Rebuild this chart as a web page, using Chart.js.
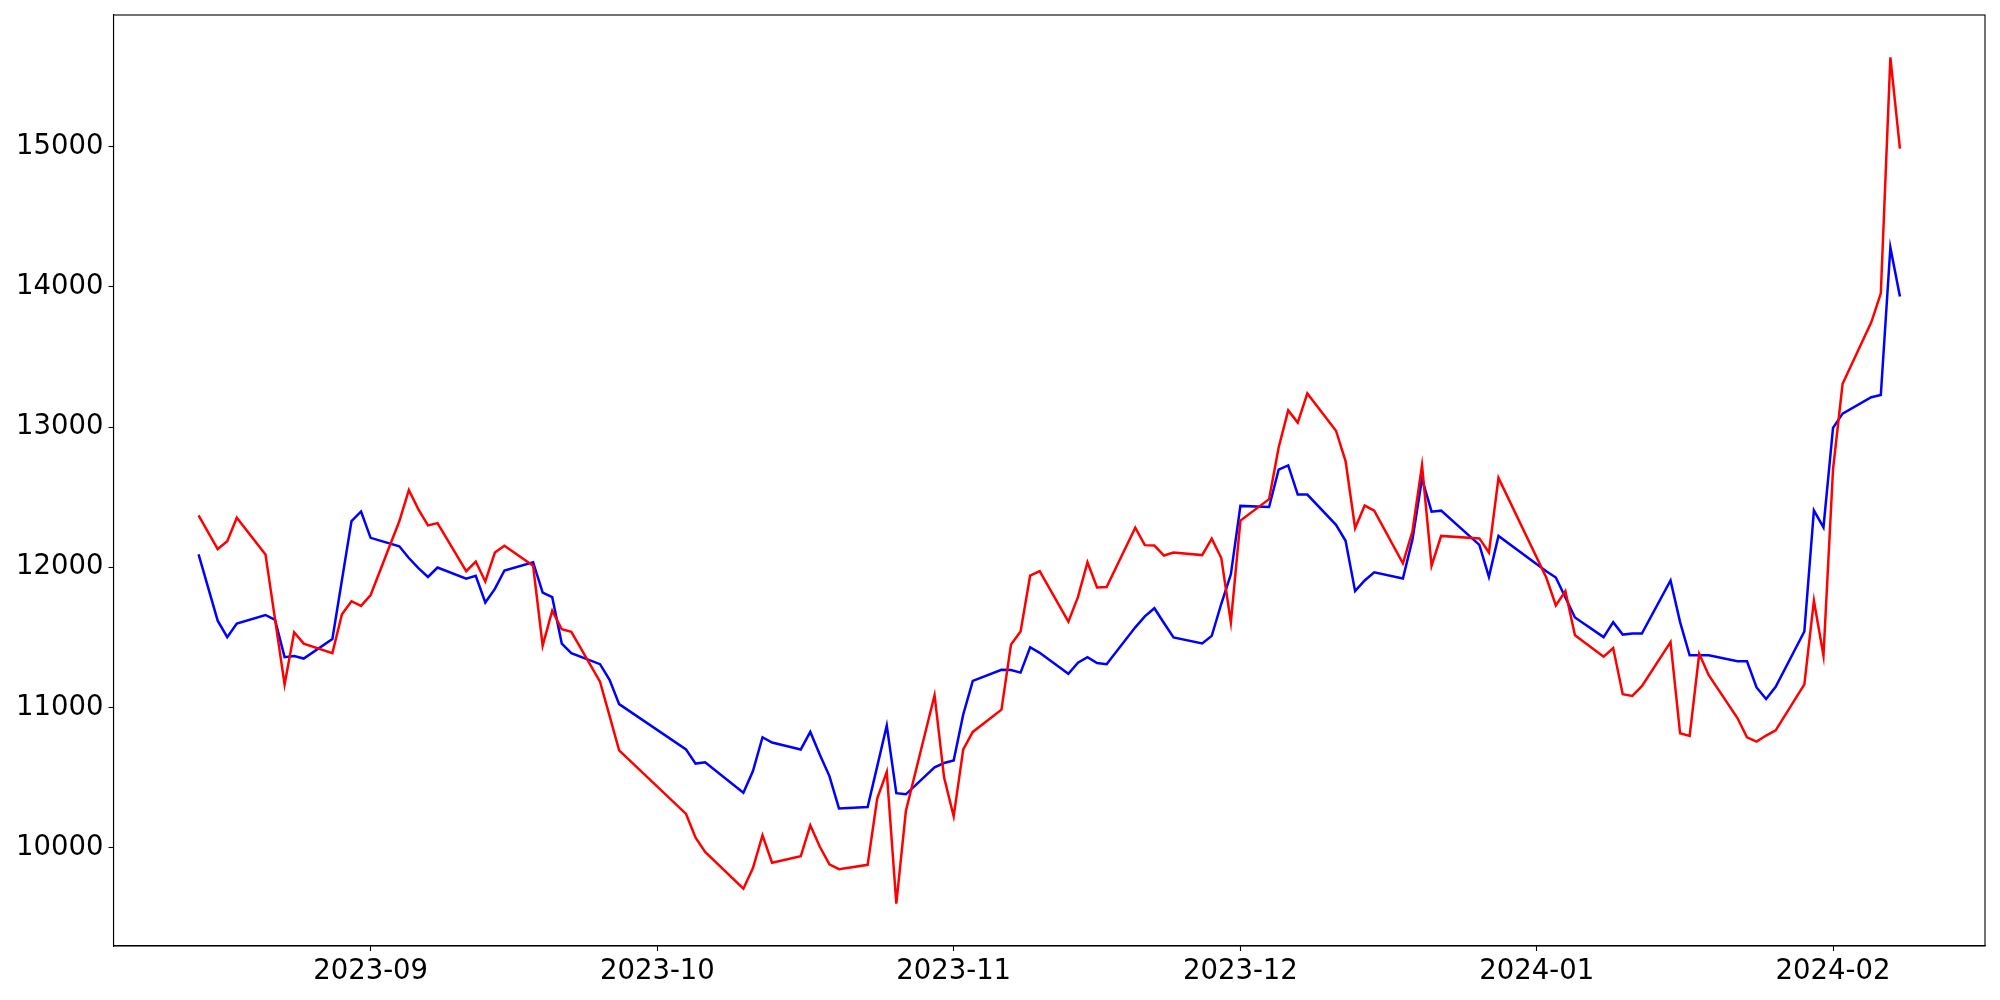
<!DOCTYPE html>
<html>
<head>
<meta charset="utf-8">
<script src="https://cdn.jsdelivr.net/npm/chart.js@4.4.1/dist/chart.umd.min.js"></script>
<style>
html,body{margin:0;padding:0;background:#ffffff;}
#wrap{width:2000px;height:1000px;position:relative;}
</style>
</head>
<body>
<div id="wrap"><canvas id="c" width="2000" height="1000"></canvas></div>
<script>
const dates = [
  '2023-08-14','2023-08-16','2023-08-17','2023-08-18','2023-08-21','2023-08-22','2023-08-23','2023-08-24','2023-08-25',
  '2023-08-28','2023-08-29','2023-08-30','2023-08-31','2023-09-01',
  '2023-09-04','2023-09-05','2023-09-06','2023-09-07','2023-09-08',
  '2023-09-11','2023-09-12','2023-09-13','2023-09-14','2023-09-15',
  '2023-09-18','2023-09-19','2023-09-20','2023-09-21','2023-09-22',
  '2023-09-25','2023-09-26','2023-09-27',
  '2023-10-04','2023-10-05','2023-10-06',
  '2023-10-10','2023-10-11','2023-10-12','2023-10-13',
  '2023-10-16','2023-10-17','2023-10-18','2023-10-19','2023-10-20',
  '2023-10-23','2023-10-24','2023-10-25','2023-10-26','2023-10-27',
  '2023-10-30','2023-10-31','2023-11-01','2023-11-02','2023-11-03',
  '2023-11-06','2023-11-07','2023-11-08','2023-11-09','2023-11-10',
  '2023-11-13','2023-11-14','2023-11-15','2023-11-16','2023-11-17',
  '2023-11-20','2023-11-21','2023-11-22','2023-11-23','2023-11-24',
  '2023-11-27','2023-11-28','2023-11-29','2023-11-30','2023-12-01',
  '2023-12-04','2023-12-05','2023-12-06','2023-12-07','2023-12-08',
  '2023-12-11','2023-12-12','2023-12-13','2023-12-14','2023-12-15',
  '2023-12-18','2023-12-19','2023-12-20','2023-12-21','2023-12-22',
  '2023-12-26','2023-12-27','2023-12-28',
  '2024-01-02','2024-01-03','2024-01-04','2024-01-05',
  '2024-01-08','2024-01-09','2024-01-10','2024-01-11','2024-01-12',
  '2024-01-15','2024-01-16','2024-01-17','2024-01-18','2024-01-19',
  '2024-01-22','2024-01-23','2024-01-24','2024-01-25','2024-01-26',
  '2024-01-29','2024-01-30','2024-01-31','2024-02-01','2024-02-02',
  '2024-02-05','2024-02-06','2024-02-07','2024-02-08'
];

const redValues = [
  12371,12130,12186,12354,12092,11630,11164,11537,11456,
  11388,11665,11758,11725,11802,
  12328,12551,12413,12299,12315,
  11972,12041,11899,12105,12153,
  12011,11441,11690,11558,11540,
  11184,10940,10694,
  10241,10071,9970,
  9708,9855,10089,9893,
  9939,10160,10007,9881,9847,
  9878,10351,10541,9601,10262,
  11088,10500,10224,10702,10826,
  10985,11450,11543,11940,11972,
  11612,11787,12036,11856,11860,
  12283,12158,12155,12084,12105,
  12087,12204,12066,11608,12333,
  12486,12854,13119,13032,13240,
  12974,12758,12280,12440,12404,
  12028,12257,12727,12011,12224,
  12206,12105,12638,
  11927,11728,11830,11515,
  11362,11424,11095,11083,11152,
  11466,10816,10798,11383,11230,
  10925,10787,10757,10800,10837,
  11165,11762,11371,12699,13309,
  13747,13954,15637,14986
];

const blueValues = [
  12092,11619,11502,11599,11660,11625,11359,11367,11349,
  11489,11909,12329,12398,12210,
  12150,12066,11994,11931,11998,
  11919,11940,11749,11846,11977,
  12036,11820,11787,11456,11388,
  11309,11197,11024,
  10701,10600,10610,
  10392,10547,10788,10750,
  10701,10826,10663,10511,10280,
  10290,10580,10872,10389,10381,
  10573,10604,10622,10950,11190,
  11269,11268,11249,11430,11390,
  11241,11320,11359,11317,11309,
  11572,11650,11708,11603,11500,
  11457,11511,11740,11950,12438,
  12430,12697,12727,12519,12519,
  12303,12189,11830,11906,11964,
  11920,12199,12631,12397,12404,
  12160,11932,12224,
  11972,11927,11784,11642,
  11502,11609,11520,11527,11527,
  11906,11609,11372,11372,11372,
  11330,11330,11143,11060,11148,
  11542,12406,12285,12994,13096,
  13213,13229,14281,13932
];

const xTickDates = ['2023-09-01','2023-10-01','2023-11-01','2023-12-01','2024-01-01','2024-02-01'];
const yTickValues = [10000, 11000, 12000, 13000, 14000, 15000];

function dayNum(s) {
  const p = s.split('-').map(Number);
  return Date.UTC(p[0], p[1] - 1, p[2]) / 86400000;
}
function dayLabel(d) {
  const dt = new Date(d * 86400000);
  const m = dt.getUTCMonth() + 1;
  return dt.getUTCFullYear() + '-' + (m < 10 ? '0' + m : '' + m);
}

const xs = dates.map(dayNum);
const redData = xs.map((x, i) => ({x: x, y: redValues[i]}));
const blueData = xs.map((x, i) => ({x: x, y: blueValues[i]}));

const xMinD = Math.min(...xs), xMaxD = Math.max(...xs);
const xPad = (xMaxD - xMinD) * 0.05;
const allY = redValues.concat(blueValues);
const yMinD = Math.min(...allY), yMaxD = Math.max(...allY);
const yPad = (yMaxD - yMinD) * 0.05;

const FONT = {family: "'DejaVu Sans', sans-serif", size: 27.5};

const framePlugin = {
  id: 'frame',
  afterDraw(chart) {
    const a = chart.chartArea, ctx = chart.ctx;
    ctx.save();
    ctx.strokeStyle = '#000000';
    ctx.lineWidth = 1.1;
    ctx.strokeRect(a.left, a.top, a.right - a.left, a.bottom - a.top);
    ctx.restore();
  }
};

new Chart(document.getElementById('c'), {
  type: 'line',
  data: {
    datasets: [
      {data: redData, borderColor: '#ff0000', borderWidth: 2.5, pointRadius: 0, fill: false, tension: 0},
      {data: blueData, borderColor: '#0000ff', borderWidth: 2.5, pointRadius: 0, fill: false, tension: 0}
    ]
  },
  options: {
    responsive: false,
    animation: false,
    devicePixelRatio: 1,
    layout: {padding: {left: 0, right: 15, top: 15, bottom: 0}},
    plugins: {legend: {display: false}, tooltip: {enabled: false}},
    scales: {
      x: {
        type: 'linear',
        min: xMinD - xPad,
        max: xMaxD + xPad,
        afterBuildTicks(scale) { scale.ticks = xTickDates.map(s => ({value: dayNum(s)})); },
        afterFit(scale) { scale.height = 54; scale.paddingLeft = 0; scale.paddingRight = 0; },
        ticks: {
          autoSkip: false, maxRotation: 0, minRotation: 0,
          color: '#000000', font: FONT, padding: 4,
          callback: (v) => dayLabel(v)
        },
        grid: {display: true, drawOnChartArea: false, drawTicks: true, tickLength: 5, color: '#000000', tickWidth: 1.1},
        border: {display: true, color: '#000000', width: 1.1}
      },
      y: {
        type: 'linear',
        min: yMinD - yPad,
        max: yMaxD + yPad,
        afterBuildTicks(scale) { scale.ticks = yTickValues.map(v => ({value: v})); },
        afterFit(scale) { scale.width = 113.5; scale.paddingTop = 0; scale.paddingBottom = 0; },
        ticks: {
          autoSkip: false, color: '#000000', font: FONT, padding: 5,
          callback: (v) => String(v)
        },
        grid: {display: true, drawOnChartArea: false, drawTicks: true, tickLength: 5, color: '#000000', tickWidth: 1.1},
        border: {display: true, color: '#000000', width: 1.1}
      }
    }
  },
  plugins: [framePlugin]
});
</script>
</body>
</html>
